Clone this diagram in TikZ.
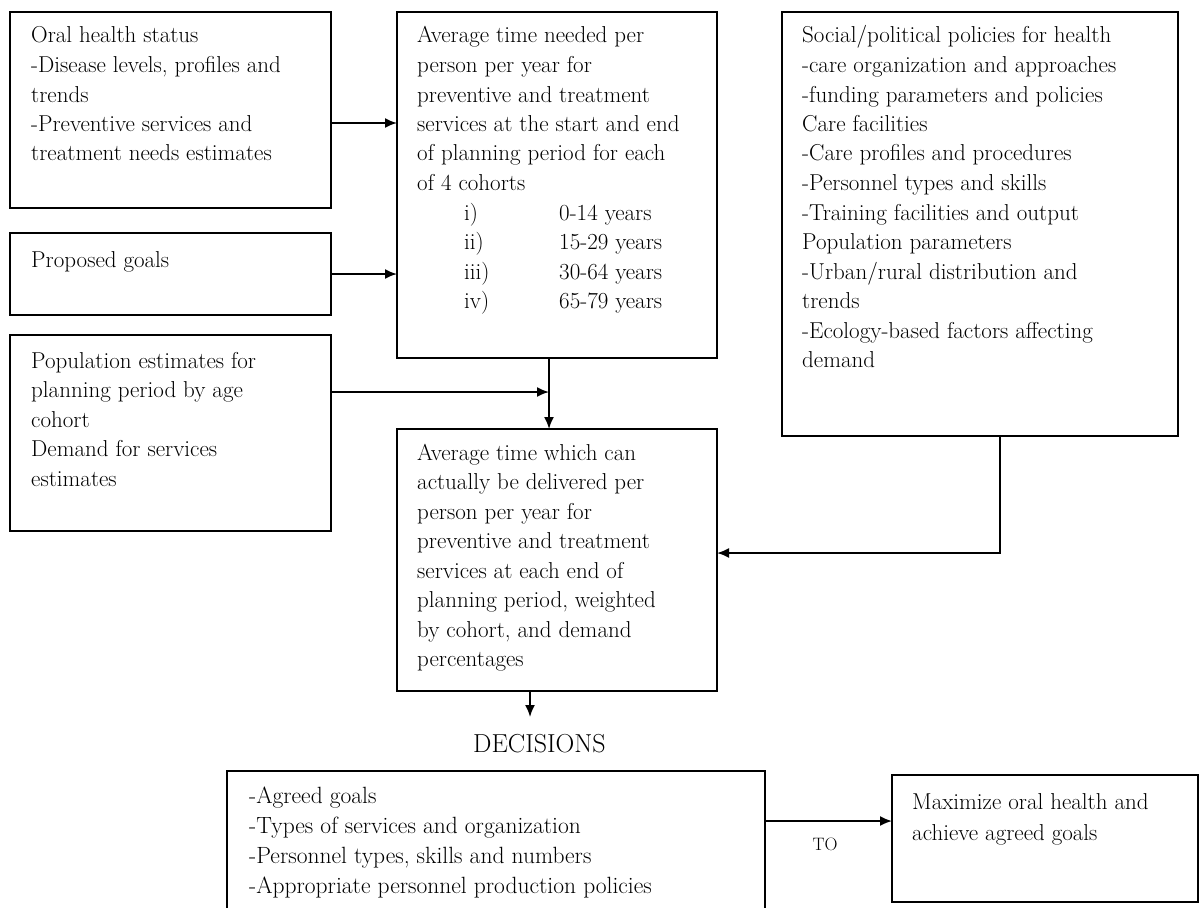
\documentclass[tikz,border=0pt]{standalone}
\usetikzlibrary{arrows.meta}
\newcommand{\bt}[1]{\parbox[t]{460pt}{\raggedright #1}}
\begin{document}
\begin{tikzpicture}[x=1pt,y=-1pt,
  frame/.style={draw, line width=1.4pt, inner sep=0pt, outer sep=0pt, anchor=north west},
  body/.style={anchor=base west, inner sep=0pt, font=\fontsize{23}{29.5}\selectfont},
  arr/.style={line width=1.8pt, -{Latex[length=12pt,width=10pt]}},
  ln/.style={line width=1.8pt}]
\useasboundingbox (0,0) rectangle (1201,907);
\clip (0,0) rectangle (1201,907);
% boxes
\node[frame, minimum width=321pt, minimum height=196pt] (A) at (10,12) {};
\node[frame, minimum width=321pt, minimum height=82pt] (B) at (10,233) {};
\node[frame, minimum width=321pt, minimum height=196pt] (C) at (10,335) {};
\node[frame, minimum width=320pt, minimum height=346pt] (D) at (397,12) {};
\node[frame, minimum width=396pt, minimum height=424pt] (E) at (782,12) {};
\node[frame, minimum width=320pt, minimum height=262pt] (F) at (397,429) {};
\node[frame, minimum width=538pt, minimum height=160pt] (G) at (227,771) {};
\node[frame, minimum width=306pt, minimum height=127pt] (H) at (892,775) {};
% texts
\node[body] (tA) at (31,43) {\bt{Oral health status\\-Disease levels, profiles and\\trends\\-Preventive services and\\treatment needs estimates}};
\node[body] (tB) at (31,267) {\bt{Proposed goals}};
\node[body] (tC) at (31,368) {\bt{Population estimates for\\planning period by age\\cohort\\Demand for services\\estimates}};
\node[body] (tD) at (417,43) {\bt{Average time needed per\\person per year for\\preventive and treatment\\services at the start and end\\of planning period for each\\of 4 cohorts\\
\hspace*{47pt}\makebox[95pt][l]{i)}0-14 years\\
\hspace*{47pt}\makebox[95pt][l]{ii)}15-29 years\\
\hspace*{47pt}\makebox[95pt][l]{iii)}30-64 years\\
\hspace*{47pt}\makebox[95pt][l]{iv)}65-79 years}};
\node[body] (tE) at (802,43) {\bt{Social/political policies for health\\-care organization and approaches\\-funding parameters and policies\\Care facilities\\-Care profiles and procedures\\-Personnel types and skills\\-Training facilities and output\\Population parameters\\-Urban/rural distribution and\\trends\\-Ecology-based factors affecting\\demand}};
\node[body] (tF) at (417,460) {\bt{Average time which can\\actually be delivered per\\person per year for\\preventive and treatment\\services at each end of\\planning period, weighted\\by cohort, and demand\\percentages}};
\node[body, font=\fontsize{23.5}{30}\selectfont] (tG) at (249,803) {\bt{-Agreed goals\\-Types of services and organization\\-Personnel types, skills and numbers\\-Appropriate personnel production policies}};
\node[body, font=\fontsize{23}{31}\selectfont] (tH) at (912,809) {\bt{Maximize oral health and\\achieve agreed goals}};
\node[inner sep=0pt, anchor=base west, font=\fontsize{26}{30}\selectfont] (dec) at (473,752) {DECISIONS};
\node[inner sep=0pt, font=\fontsize{18}{22}\selectfont] (to) at (825,844) {TO};
% connectors
\draw[arr] ([yshift=-13pt]A.east) coordinate (a1) -- (a1 -| D.west);
\draw[arr] (B.east) -- (B.east -| D.west);
\coordinate (j1) at ([xshift=-8pt]D.south);
\draw[arr] (j1) -- (j1 |- F.north);
\draw[arr] ([yshift=41pt]C.east) coordinate (c1) -- (c1 -| j1);
\draw[arr] ([xshift=20pt]E.south) |- ([yshift=7pt]F.east);
\draw[arr] ([xshift=-27pt]F.south) coordinate (f1) -- ++(0,26);
\draw[arr] ([yshift=30pt]G.east) coordinate (g1) -- (g1 -| H.west);
\end{tikzpicture}
\end{document}
